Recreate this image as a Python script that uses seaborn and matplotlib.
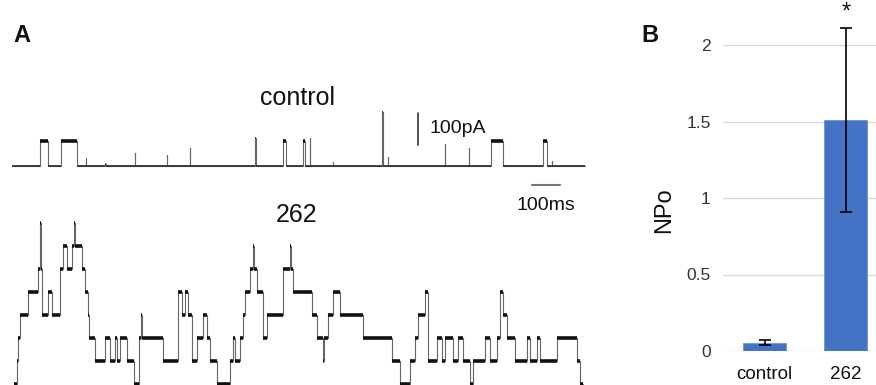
import numpy as np
import pandas as pd
import seaborn as sns
import matplotlib.pyplot as plt

# ---- panel A: single-channel traces ----
# control trace: baseline with brief openings (start ms, end ms, level in unit currents)
ctrl_open_start = [100, 175, 264, 332, 439, 553, 635, 868, 967, 1039, 1064, 1146, 1321, 1342, 1546, 1631, 1710, 1896, 1928]
ctrl_open_end = [129, 232, 266, 334, 441, 555, 637, 870, 978, 1046, 1066, 1148, 1325, 1344, 1548, 1633, 1753, 1910, 1930]
ctrl_open_level = [1, 1, 0.3, 0.1, 0.5, 0.45, 0.7, 1.1, 1, 1, 1.1, 0.15, 2.1, 0.35, 0.85, 0.7, 1, 1, 0.2]
ctrl_end_ms = 2046

# 262 trace: level changes (ms) and number of open channels
t262_ms = [7, 18, 21, 29, 57, 93, 100, 104, 107, 129, 143, 171, 182, 196, 214, 221, 225, 250, 261, 271,
           275, 296, 332, 350, 368, 375, 386, 411, 436, 454, 461, 464, 539, 593, 607, 618, 629, 643, 661, 682,
           696, 707, 732, 779, 789, 796, 814, 825, 832, 850, 861, 864, 875, 896, 911, 968, 993, 996, 1003, 1071,
           1089, 1111, 1114, 1128, 1146, 1171, 1254, 1357, 1386, 1421, 1439, 1450, 1475, 1486, 1518, 1536, 1546, 1575, 1593, 1611,
           1636, 1646, 1689, 1707, 1732, 1743, 1754, 1768, 1796, 1839, 1850, 1875, 1886, 1946, 2018, 2028, 2039]
lvl262 = [0, 1, 2, 3, 4, 5, 7, 5, 3, 4, 3, 5, 6, 5, 6, 7, 6, 5, 4, 3,
          2, 1, 2, 1, 2, 1, 2, 1, 0, 2, 3, 2, 1, 4, 3, 4, 3, 1, 2, 3,
          2, 1, 0, 1, 2, 1, 2, 3, 4, 5, 6, 5, 4, 2, 3, 5, 6, 5, 4, 3,
          2, 1, 2, 3, 4, 3, 2, 1, 0, 1, 2, 3, 4, 1, 2, 1, 2, 1, 2, 1,
          0, 1, 2, 1, 2, 4, 3, 2, 1, 2, 1, 2, 1, 2, 1, 0, 0]

ctrl_unit_pA = 80
unit262_pA = 72
ctrl_offset_pA = 684
offset262_pA = 2

# ---- panel B: NPo bars ----
groups = ["control", "262"]
npo_mean = [0.055, 1.51]
npo_err = [0.015, 0.60]

sns.set_style("white")
plt.rcParams['font.family'] = ['Liberation Sans', 'DejaVu Sans']
plt.rcParams['text.color'] = '#111111'

fig = plt.figure(figsize=(8.76, 3.85), dpi=100)

# panel A axes in ms / pA
axA = fig.add_axes([0, 0, 600 / 876, 1])
ms_per_px = 100 / 28
pA_per_px = 100 / 32

# control step trace
t_ctrl = [0]
y_ctrl = [0]
for s, e, l in zip(ctrl_open_start, ctrl_open_end, ctrl_open_level):
    t_ctrl += [s, e]
    y_ctrl += [l, 0]
t_ctrl.append(ctrl_end_ms)
y_ctrl.append(0)
ctrl_df = pd.DataFrame({"t": t_ctrl, "i": np.array(y_ctrl) * ctrl_unit_pA + ctrl_offset_pA})
sns.lineplot(data=ctrl_df, x="t", y="i", ax=axA, estimator=None, sort=False,
             drawstyle="steps-post", color="#666666", lw=0.8)

tr_df = pd.DataFrame({"t": t262_ms, "i": np.array(lvl262) * unit262_pA + offset262_pA})
sns.lineplot(data=tr_df, x="t", y="i", ax=axA, estimator=None, sort=False,
             drawstyle="steps-post", color="#666666", lw=0.8)

# noisy plateaus drawn heavier, like the recording
axA.hlines(ctrl_df["i"].iloc[:-1], ctrl_df["t"].iloc[:-1], ctrl_df["t"].iloc[1:],
           color="#333333", lw=1.3)
op = [(s, e, l) for s, e, l in zip(ctrl_open_start, ctrl_open_end, ctrl_open_level) if e - s > 5]
axA.hlines([l * ctrl_unit_pA + ctrl_offset_pA for s, e, l in op], [s for s, e, l in op],
           [e for s, e, l in op], color="#111111", lw=2.6)
axA.hlines(tr_df["i"].iloc[:-1], tr_df["t"].iloc[:-1], tr_df["t"].iloc[1:],
           color="#111111", lw=2.6)

axA.set_xlim(-12 * ms_per_px, 588 * ms_per_px)
axA.set_ylim(0, 385 * pA_per_px)
axA.axis("off")

# scale bars
axA.plot([1450, 1450], [750, 850], color="#333333", lw=1.2)
axA.text(1492, 803, "100pA", fontsize=14, va="center", ha="left")
axA.plot([1857, 1957], [625, 625], color="#777777", lw=1.5)
axA.text(1907, 562, "100ms", fontsize=14, va="center", ha="center")
axA.text(1018, 897, "control", fontsize=18, va="center", ha="center")
axA.text(1018, 531, "262", fontsize=18, va="center", ha="center")

fig.text(22 / 876, 1 - 35 / 385, "A", fontsize=17, fontweight="bold", ha="center", va="center")
fig.text(650 / 876, 1 - 35 / 385, "B", fontsize=17, fontweight="bold", ha="center", va="center")

# panel B bar chart
axB = fig.add_axes([723 / 876, 34 / 385, 153 / 876, 2.3 * 153 / 385])
bar_df = pd.DataFrame({"group": groups, "npo": npo_mean})
sns.barplot(data=bar_df, x="group", y="npo", ax=axB, color="#4472C4", width=0.53,
            saturation=1, edgecolor="#6f93d4", linewidth=0.6)
axB.errorbar(range(len(groups)), npo_mean, yerr=npo_err, fmt="none",
             ecolor="black", elinewidth=1.2, capsize=4, capthick=1.2)
axB.text(1, 2.14, "*", fontsize=17, ha="center", va="bottom")

axB.set_xlim(-0.51, 1.37)
axB.set_ylim(0, 2.3)
axB.set_yticks([0, 0.5, 1, 1.5, 2])
axB.set_yticklabels(["0", "0.5", "1", "1.5", "2"])
axB.yaxis.grid(True, color="#d9d9d9", lw=1)
axB.set_axisbelow(True)
for sp in axB.spines.values():
    sp.set_visible(False)
axB.tick_params(axis="y", length=0, pad=9, labelsize=12.5, labelcolor="#333333")
axB.tick_params(axis="x", length=0, pad=11, labelsize=13.5, labelcolor="#111111")
axB.set_xlabel("")
axB.set_ylabel("NPo", fontsize=17, color="#111111")
axB.yaxis.set_label_coords(-0.31, 0.40)

fig.savefig("out.png", dpi=100)
